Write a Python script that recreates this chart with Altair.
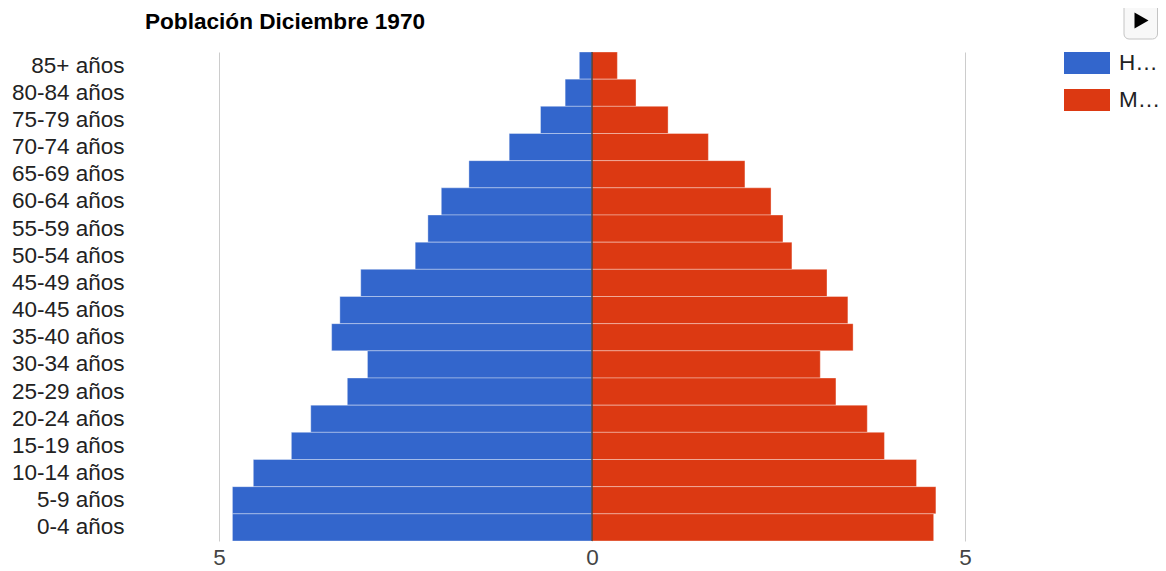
import altair as alt
import pandas as pd

# ---- data ----
edades = ["85+ años", "80-84 años", "75-79 años", "70-74 años", "65-69 años",
          "60-64 años", "55-59 años", "50-54 años", "45-49 años", "40-45 años",
          "35-40 años", "30-34 años", "25-29 años", "20-24 años", "15-19 años",
          "10-14 años", "5-9 años", "0-4 años"]
hombres = [0.17, 0.36, 0.69, 1.11, 1.65, 2.02, 2.20, 2.37, 3.10, 3.38,
           3.49, 3.01, 3.28, 3.77, 4.03, 4.54, 4.82, 4.82]
mujeres = [0.34, 0.59, 1.02, 1.56, 2.05, 2.40, 2.56, 2.68, 3.15, 3.43,
           3.50, 3.06, 3.27, 3.69, 3.92, 4.35, 4.61, 4.58]
sexos = ["Hombres", "Mujeres"]
colores = ["#3366CC", "#DC3912"]
ticks_x = [-5, 0, 5]
titulo = "Población Diciembre 1970"

FONT = "Liberation Sans, Arial, sans-serif"

rows = []
for e, h, m in zip(edades, hombres, mujeres):
    rows.append({"edad": e, "sexo": sexos[0], "valor": -h})
    rows.append({"edad": e, "sexo": sexos[1], "valor": m})
df = pd.DataFrame(rows)

bars = alt.Chart(df).mark_bar(stroke="white", strokeOpacity=0.35, strokeWidth=1).encode(
    y=alt.Y("edad:N", sort=edades,
            scale=alt.Scale(paddingInner=0, paddingOuter=0),
            axis=alt.Axis(title=None, ticks=False, domain=False, grid=False,
                          labelFontSize=22.5, labelFont=FONT, labelColor="#222",
                          labelPadding=95)),
    x=alt.X("valor:Q", scale=alt.Scale(domain=[-5, 5], nice=False, zero=False),
            axis=alt.Axis(title=None, values=ticks_x, labelExpr="abs(datum.value)",
                          ticks=False, domain=False, grid=True, gridColor="#cccccc",
                          labelFontSize=22.5, labelFont=FONT, labelColor="#444",
                          labelPadding=5, labelFlush=False)),
    color=alt.Color("sexo:N", scale=alt.Scale(domain=sexos, range=colores),
                    legend=alt.Legend(title=None, orient="none", legendX=845, legendY=-12,
                                      symbolType="M-1,-0.478H1V0.478H-1Z",
                                      symbolSize=2116, symbolStrokeWidth=0,
                                      symbolOpacity=1,
                                      labelFontSize=22.5, labelFont=FONT, labelColor="#222",
                                      labelLimit=43, labelOffset=9, rowPadding=2,
                                      padding=0)),
)

cero = alt.Chart(pd.DataFrame({"cero": [0]})).mark_rule(color="#333333", strokeWidth=1.3).encode(
    x="cero:Q")

one = alt.InlineData(values=[{"b": 1}])
boton = alt.Chart(one).mark_rect(fill="#f8f8f8", stroke="#c4c4c4", strokeWidth=1,
                                  cornerRadius=5).encode(
    x=alt.value(905), x2=alt.value(938.5), y=alt.value(-49), y2=alt.value(-13))
flecha = alt.Chart(one).mark_point(shape="triangle-right", filled=True, color="#000000",
                                    opacity=1, size=260).encode(
    x=alt.value(922.5), y=alt.value(-31.5))
cabecera = alt.Chart(one).mark_text(text=titulo, font=FONT, fontSize=22.6, fontWeight="bold",
                                     color="#000000", align="left",
                                     baseline="alphabetic").encode(
    x=alt.value(-74), y=alt.value(-23.5))

chart = alt.layer(bars, cero, boton, flecha, cabecera).properties(
    width=746, height=489,
    autosize=alt.AutoSizeParams(type="none"),
    padding={"left": 211, "top": 44, "right": 193, "bottom": 30},
).configure_view(stroke=None)

chart.save("out.html", embed_options={"renderer": "svg", "actions": False})
